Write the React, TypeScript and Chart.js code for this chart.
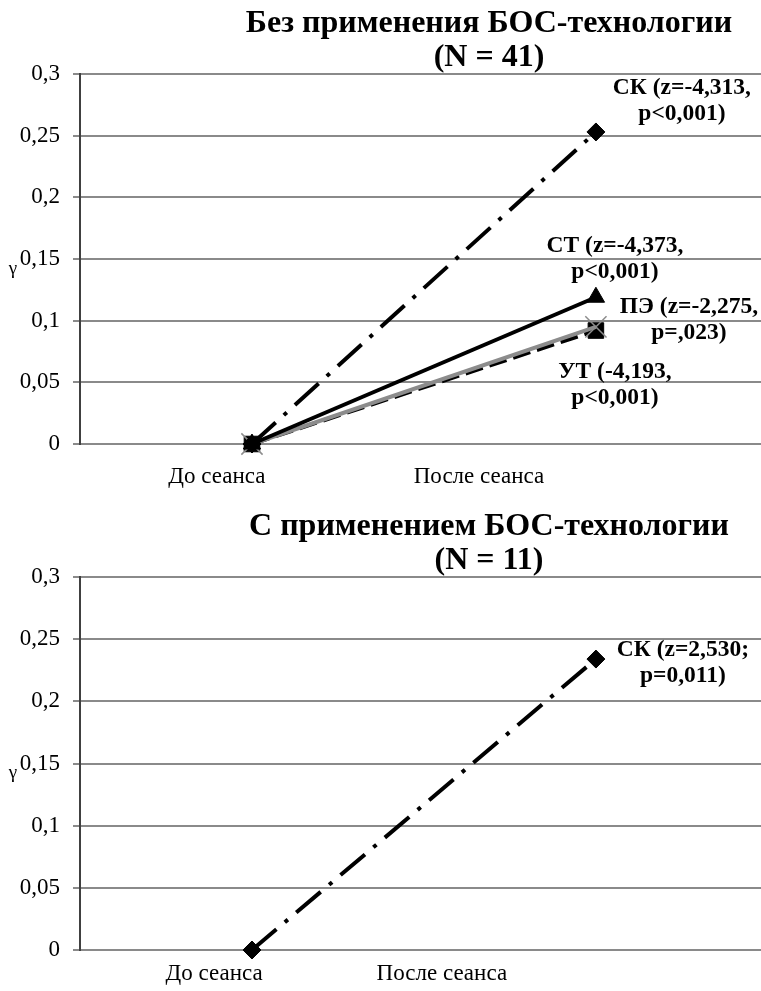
import React, { useEffect, useRef } from 'react';
import { Chart, registerables } from 'chart.js';

Chart.register(...registerables);

const SERIF = "'Liberation Serif', 'Times New Roman', serif";

// ---- data ----
const categories = ['До сеанса', 'После сеанса'];
const yTickLabels = ['0', '0,05', '0,1', '0,15', '0,2', '0,25', '0,3'];

const topTitle = ['Без применения БОС-технологии', '(N = 41)'];
const bottomTitle = ['С применением БОС-технологии', '(N = 11)'];

// Without biofeedback (N = 41)
const topSK = [0, 0.253];
const topST = [0, 0.119];
const topPE = [0, 0.095];
const topUT = [0, 0.092];
// With biofeedback (N = 11)
const bottomSK = [0, 0.234];

const topSKLabel = ['СК (z=-4,313,', 'p<0,001)'];
const topSTLabel = ['СТ (z=-4,373,', 'p<0,001)'];
const topPELabel = ['ПЭ (z=-2,275,', 'p=,023)'];
const topUTLabel = ['УТ (-4,193,', 'p<0,001)'];
const bottomSKLabel = ['СК (z=2,530;', 'p=0,011)'];

const GRID = '#8a8a8a';
const SERIES_GRAY = '#8c8c8c';

const toPoints = (vals: number[]) => vals.map((v, i) => ({ x: i, y: v }));

const styleSK = {
  borderColor: '#000',
  borderWidth: 4,
  borderDash: [32, 11, 4, 11],
  pointStyle: 'rectRot',
  pointRadius: 9,
  pointBackgroundColor: '#000',
  pointBorderColor: '#000',
  pointBorderWidth: 1,
};
const styleST = {
  borderColor: '#000',
  borderWidth: 4,
  pointStyle: 'triangle',
  pointRadius: 10,
  pointBackgroundColor: '#000',
  pointBorderColor: '#000',
  pointBorderWidth: 1,
};
const stylePE = {
  borderColor: SERIES_GRAY,
  borderWidth: 4,
  pointStyle: 'crossRot',
  pointRadius: 15,
  pointBackgroundColor: SERIES_GRAY,
  pointBorderColor: SERIES_GRAY,
  pointBorderWidth: 1.5,
};
const styleUT = {
  borderColor: '#000',
  borderWidth: 4,
  borderDash: [18, 7],
  pointStyle: 'rect',
  pointRadius: 11,
  pointBackgroundColor: '#000',
  pointBorderColor: '#000',
  pointBorderWidth: 1,
};

type LabelSpec = { dataset: number; index: number; lines: string[]; dx: number; dy: number };
type ChartCfg = {
  height: number;
  padTop: number;
  xAxisHeight: number;
  xTickPad: number;
  xTickPos: number[];
  title: string[];
  datasets: any[];
  labels: LabelSpec[];
};

const topCfg: ChartCfg = {
  height: 495,
  padTop: 74,
  xAxisHeight: 51,
  xTickPad: 19,
  xTickPos: [-0.102, 0.66],
  title: topTitle,
  datasets: [
    { label: 'СК', data: toPoints(topSK), ...styleSK },
    { label: 'СТ', data: toPoints(topST), ...styleST },
    { label: 'ПЭ', data: toPoints(topPE), ...stylePE },
    { label: 'УТ', data: toPoints(topUT), ...styleUT },
  ],
  labels: [
    { dataset: 0, index: 1, lines: topSKLabel, dx: 86, dy: -44 },
    { dataset: 1, index: 1, lines: topSTLabel, dx: 19, dy: -51 },
    { dataset: 2, index: 1, lines: topPELabel, dx: 93, dy: -20 },
    { dataset: 3, index: 1, lines: topUTLabel, dx: 19, dy: 41 },
  ],
};

const bottomCfg: ChartCfg = {
  height: 496,
  padTop: 82,
  xAxisHeight: 41,
  xTickPad: 10,
  xTickPos: [-0.11, 0.552],
  title: bottomTitle,
  datasets: [{ label: 'СК', data: toPoints(bottomSK), ...styleSK }],
  labels: [{ dataset: 0, index: 1, lines: bottomSKLabel, dx: 87, dy: -9 }],
};

function makeTextPlugin(cfg: ChartCfg) {
  return {
    id: 'textOverlay',
    afterDraw(chart: any) {
      const ctx = chart.ctx as CanvasRenderingContext2D;
      const area = chart.chartArea;
      ctx.save();
      ctx.fillStyle = '#000';
      ctx.textAlign = 'center';
      ctx.textBaseline = 'middle';
      // title
      ctx.font = `bold 32px ${SERIF}`;
      const titleOffsets = [-50, -16];
      cfg.title.forEach((line, i) => ctx.fillText(line, 489, area.top + titleOffsets[i]));
      // y-axis title
      ctx.font = `19px ${SERIF}`;
      ctx.fillText('γ', 13, (area.top + area.bottom) / 2 + 10);
      // data labels
      ctx.font = `bold 23.5px ${SERIF}`;
      cfg.labels.forEach((lab) => {
        const pt = chart.getDatasetMeta(lab.dataset).data[lab.index];
        lab.lines.forEach((line, i) => ctx.fillText(line, pt.x + lab.dx, pt.y + lab.dy + i * 26));
      });
      ctx.restore();
    },
  };
}

function LineChart({ cfg }: { cfg: ChartCfg }) {
  const ref = useRef<HTMLCanvasElement>(null);
  useEffect(() => {
    const chart = new Chart(ref.current as HTMLCanvasElement, {
      type: 'line',
      data: {
        datasets: cfg.datasets.map((d) => ({ ...d, tension: 0, fill: false, clip: false })),
      },
      options: {
        animation: false,
        responsive: false,
        devicePixelRatio: 1,
        layout: { autoPadding: false, padding: { top: cfg.padTop, left: 0, right: 0, bottom: 0 } },
        plugins: {
          legend: { display: false },
          tooltip: { enabled: false },
          title: { display: false },
        },
        scales: {
          x: {
            type: 'linear',
            min: -0.5,
            max: 1.48,
            bounds: 'data',
            grid: { display: false, drawTicks: false },
            border: { display: true, color: GRID, width: 2 },
            afterBuildTicks: (axis: any) => {
              axis.ticks = cfg.xTickPos.map((v) => ({ value: v }));
            },
            afterFit: (axis: any) => {
              axis.height = cfg.xAxisHeight;
              axis.paddingLeft = 0;
              axis.paddingRight = 0;
            },
            ticks: {
              autoSkip: false,
              maxRotation: 0,
              minRotation: 0,
              padding: cfg.xTickPad,
              color: '#000',
              font: { family: SERIF, size: 23 },
              callback: (_v: any, i: number) => categories[i],
            },
          },
          y: {
            type: 'linear',
            min: 0,
            max: 0.3,
            grid: { color: GRID, lineWidth: 2, tickLength: 7, tickColor: GRID },
            border: { display: true, color: '#404040', width: 2 },
            afterFit: (axis: any) => {
              axis.width = 80;
            },
            ticks: {
              stepSize: 0.05,
              padding: 13,
              color: '#000',
              font: { family: SERIF, size: 23 },
              callback: (_v: any, i: number) => yTickLabels[i],
            },
          },
        },
      } as any,
      plugins: [makeTextPlugin(cfg)],
    });
    return () => chart.destroy();
  }, [cfg]);
  return (
    <canvas
      ref={ref}
      width={761}
      height={cfg.height}
      style={{ display: 'block', width: 761, height: cfg.height }}
    />
  );
}

export default function App() {
  return (
    <div style={{ position: 'absolute', left: 0, top: 0, width: 761, background: '#fff' }}>
      <LineChart cfg={topCfg} />
      <LineChart cfg={bottomCfg} />
    </div>
  );
}
